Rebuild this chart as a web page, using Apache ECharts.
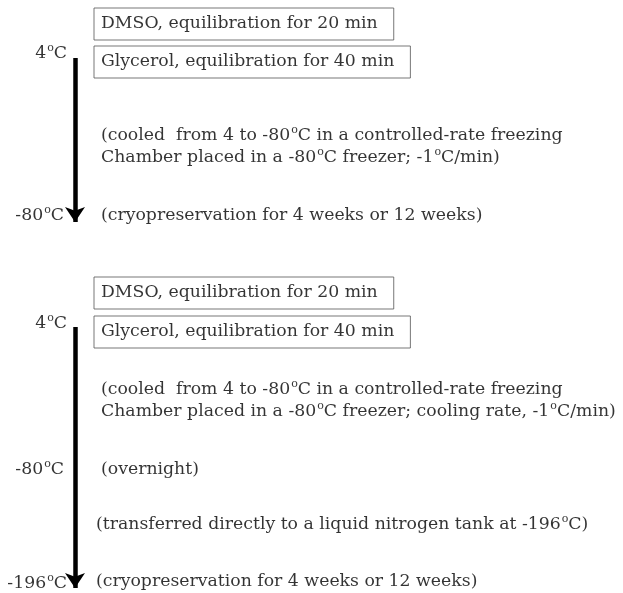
<!DOCTYPE html>
<html>
<head>
<meta charset="utf-8">
<script src="https://cdn.jsdelivr.net/npm/echarts@6/dist/echarts.min.js"></script>
<style>
  html, body { margin: 0; padding: 0; background: #fff; }
  #main { width: 623px; height: 593px; }
</style>
</head>
<body>
<div id="main"></div>
<script>
// texts of the two protocols ({o|o} = superscript degree)
const boxLabels = ['DMSO, equilibration for 20 min', 'Glycerol, equilibration for 40 min'];
const tempsA = ['4{o|o}C', '-80{o|o}C'];
const notesA = [
  '(cooled  from 4 to -80{o|o}C in a controlled-rate freezing\nChamber placed in a -80{o|o}C freezer; -1{o|o}C/min)',
  '(cryopreservation for 4 weeks or 12 weeks)'
];
const tempsB = ['4{o|o}C', '-80{o|o}C', '-196{o|o}C'];
const notesB = [
  '(cooled  from 4 to -80{o|o}C in a controlled-rate freezing\nChamber placed in a -80{o|o}C freezer; cooling rate, -1{o|o}C/min)',
  '(overnight)',
  '(transferred directly to a liquid nitrogen tank at -196{o|o}C)',
  '(cryopreservation for 4 weeks or 12 weeks)'
];

// layout in page pixels (hidden axes run 0..623 and 0..593)
const FONT = 'DejaVu Serif';
const SIZE = 17.3;
const panels = [
  { boxY: [24, 62], tempY: [54, 216], tempX: [67, 64], arrow: [58, 222],
    temps: tempsA, notes: notesA, noteY: [147, 216], noteX: [101, 101] },
  { boxY: [293, 332], tempY: [324, 470, 584], tempX: [67, 64, 67], arrow: [327, 588],
    temps: tempsB, notes: notesB, noteY: [401, 470, 525, 582], noteX: [101, 101, 96, 96] }
];

const rich = { o: { fontFamily: FONT, fontSize: 11, color: '#000', verticalAlign: 'top', lineHeight: 11, padding: [0, 0, 0, 1] } };

function label(align, extra) {
  return Object.assign({
    show: true, position: 'inside', align: align, verticalAlign: 'middle',
    fontFamily: FONT, fontSize: SIZE, color: '#000', lineHeight: 22, rich: rich,
    formatter: p => p.data.text
  }, extra || {});
}

const textData = [];
const arrowData = [];
panels.forEach(p => {
  boxLabels.forEach((t, i) => {
    textData.push({ value: [94, p.boxY[i]], text: t,
      label: label('left', { borderColor: '#555', borderWidth: 1, padding: [5, 16, 5, 7] }) });
  });
  p.temps.forEach((t, i) => {
    textData.push({ value: [p.tempX[i], p.tempY[i]], text: t, label: label('right') });
  });
  p.notes.forEach((t, i) => {
    textData.push({ value: [p.noteX[i], p.noteY[i]], text: t, label: label('left') });
  });
  arrowData.push({ coords: [[75, p.arrow[0]], [75, p.arrow[1]]] });
});

const chart = echarts.init(document.getElementById('main'));
chart.setOption({
  animation: false,
  grid: { left: 0, right: 0, top: 0, bottom: 0 },
  xAxis: { type: 'value', min: 0, max: 623, show: false },
  yAxis: { type: 'value', min: 0, max: 593, inverse: true, show: false },
  series: [
    {
      type: 'lines',
      coordinateSystem: 'cartesian2d',
      symbol: ['none', 'arrow'],
      symbolSize: [12, 15],
      lineStyle: { color: '#000', width: 4.5, opacity: 1 },
      data: arrowData
    },
    {
      type: 'scatter',
      symbolSize: 0,
      data: textData
    }
  ]
});
</script>
</body>
</html>
